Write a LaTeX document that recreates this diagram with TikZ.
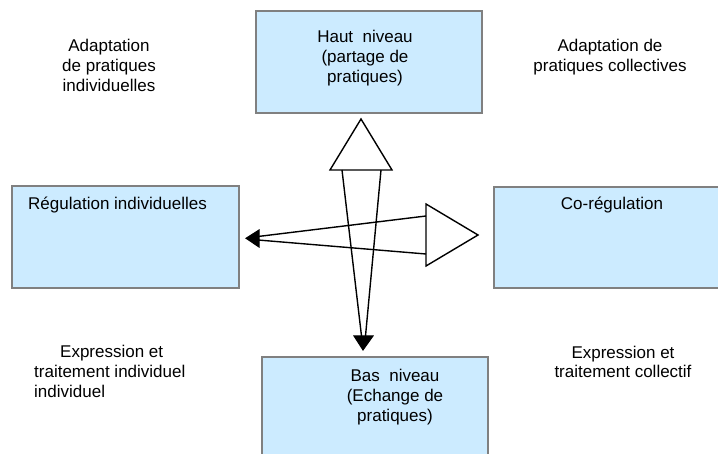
\documentclass[tikz,border=0pt]{standalone}
\usepackage{fontspec}
\setmainfont{Liberation Sans}
\usepackage{xcolor}
\definecolor{bleuclair}{RGB}{204,235,255}
\definecolor{grisbord}{RGB}{128,128,128}

\begin{document}
\begin{tikzpicture}[x=1pt, y=-1pt,
        every node/.style={font=\fontsize{17}{20}\selectfont, inner sep=0pt},
        bloc/.style={draw=grisbord, line width=1.5pt, fill=bleuclair, rectangle},
        trait/.style={line width=1.4pt, line join=miter},
        pleine/.style={fill=black, line width=1pt, line join=miter}]
        \useasboundingbox (0,0) rectangle (718,454);

        % Boxes
        \node[bloc, minimum width=226, minimum height=102] (haut) at (369,62) {};
        \node[bloc, minimum width=227, minimum height=102] (gauche) at (125.5,237) {};
        \node[bloc, minimum width=240, minimum height=101] (droite) at (614,237.5) {};
        \node[bloc, minimum width=226, minimum height=120] (bas) at (375,417) {};

        % Box texts (base = last line)
        \node[anchor=base, align=center] (hauttxt) at (365,83) {Haut\ \ niveau\\(partage de\\pratiques)};
        \node[anchor=base west] (gauchetxt) at (28,210) {Régulation individuelles};
        \node[anchor=base] (droitetxt) at (612,210) {Co-régulation};
        \node[anchor=base, align=center] (bastxt) at (395,421) {Bas\ \ niveau\\(Echange de\\pratiques)};

        % Corner texts
        \node[anchor=base, align=center] (adaptind) at (109,92) {Adaptation\\de pratiques\\individuelles};
        \node[anchor=base, align=center] (adaptcol) at (610,72) {Adaptation de\\pratiques collectives};
        \node[anchor=base west, align=left] (exprind) at (34,398) {\hspace*{26pt}Expression et\\traitement individuel\\individuel};
        \node[anchor=base, align=center] (exprcol) at (623,378) {Expression et\\traitement collectif};

        % Vertical arrow
        \coordinate (vtip) at (361,119);
        \coordinate (vbl) at (330,170);
        \coordinate (vbr) at (392,170);
        \coordinate (vsl) at (342,170);
        \coordinate (vsr) at (381,170);
        \coordinate (vel) at (361.5,336);
        \coordinate (ver) at (365.5,336);
        \coordinate (vhl) at (354,336);
        \coordinate (vhr) at (373,336);
        \coordinate (vbout) at (363,350);
        \draw[trait] (vtip) -- (vbl) -- (vbr) -- cycle;
        \draw[trait] (vsl) -- (vel);
        \draw[trait] (vsr) -- (ver);
        \draw[pleine] (vhl) -- (vhr) -- (vbout) -- cycle;

        % Horizontal arrow
        \coordinate (htip) at (478,235);
        \coordinate (hbh) at (426,204);
        \coordinate (hbb) at (426,266);
        \coordinate (hsh) at (426,216);
        \coordinate (hsb) at (426,254);
        \coordinate (heh) at (258,236.5);
        \coordinate (heb) at (258,240);
        \coordinate (hhh) at (259,230);
        \coordinate (hhb) at (259,247);
        \coordinate (hbout) at (246,238.3);
        \draw[trait] (htip) -- (hbh) -- (hbb) -- cycle;
        \draw[trait] (hsh) -- (heh);
        \draw[trait] (hsb) -- (heb);
        \draw[pleine] (hhh) -- (hhb) -- (hbout) -- cycle;
    \end{tikzpicture}
\end{document}
